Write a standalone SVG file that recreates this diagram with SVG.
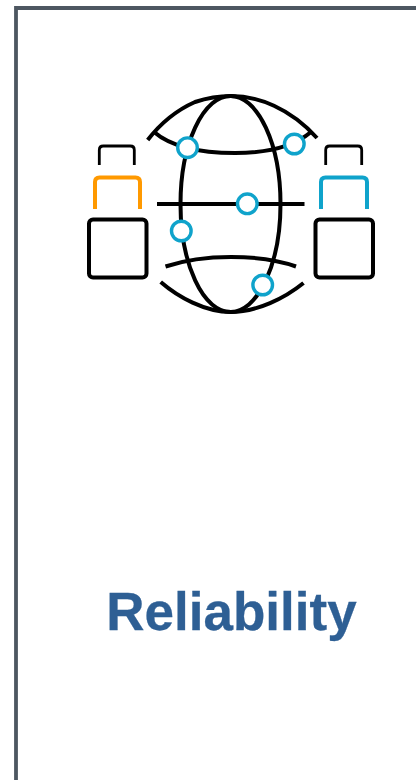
<svg xmlns="http://www.w3.org/2000/svg" width="416" height="780" viewBox="0 0 416 780">
<style>
.k{fill:none;stroke:#000;stroke-width:4}
.s{fill:none;stroke:#000;stroke-width:2.8}
.n{fill:#fff;stroke:#0fa3cb;stroke-width:3.4}
.t{font-family:"Liberation Sans",Arial,sans-serif;font-weight:bold;font-size:53px;fill:#2e5f94;stroke:#2e5f94;stroke-width:.3;text-anchor:middle}
</style>
<rect width="416" height="780" fill="#fff"/>
<path id="frame" d="M16 780V8H416" fill="none" stroke="#4d5761" stroke-width="3.8"/>
<g id="connectors">
<path class="k" d="M147.700 140C160 124 177 110 195 102C207 98 220 96 231 96C258 96 290 108 317 138"/>
<path class="k" d="M160.700 282C178 297 205 312 231 312C257 312 285 298 303.500 283"/>
<ellipse class="k" cx="230.500" cy="204" rx="50" ry="108"/>
<path class="k" d="M154 132C175 150 210 153 235 153C265 153 292 148 311 132"/>
<path class="k" d="M165.500 266.500C185 260 210 257 231 257C255 257 278 260 296 266.500"/>
<path class="k" d="M157 204H304.500"/>
</g>
<g id="lock-left">
<path class="s" d="M99.300 165V150Q99.300 146 103.300 146H130.300Q134.300 146 134.300 150V165"/>
<path d="M95 209V182Q95 177.500 99.500 177.500H135.500Q140 177.500 140 182V209" fill="none" stroke="#ff9900" stroke-width="4"/>
<rect class="k" x="89" y="219.500" width="57.500" height="58" rx="4"/>
</g>
<g id="lock-right">
<path class="s" d="M325.700 165V150Q325.700 146 329.700 146H357.700Q361.700 146 361.700 150V165"/>
<path d="M321 209V182Q321 177.500 325.500 177.500H362.500Q367 177.500 367 182V209" fill="none" stroke="#0fa3cb" stroke-width="4"/>
<rect class="k" x="315.500" y="219.500" width="57.500" height="58" rx="4"/>
</g>
<g id="node-1"><circle class="n" cx="187.500" cy="147.700" r="9.800"/></g>
<g id="node-2"><circle class="n" cx="294.300" cy="144" r="9.800"/></g>
<g id="node-3"><circle class="n" cx="247.300" cy="203.800" r="9.800"/></g>
<g id="node-4"><circle class="n" cx="181.300" cy="231" r="9.800"/></g>
<g id="node-5"><circle class="n" cx="262.700" cy="285" r="9.800"/></g>
<text id="label" class="t" x="231.500" y="630">Reliability</text>
</svg>
